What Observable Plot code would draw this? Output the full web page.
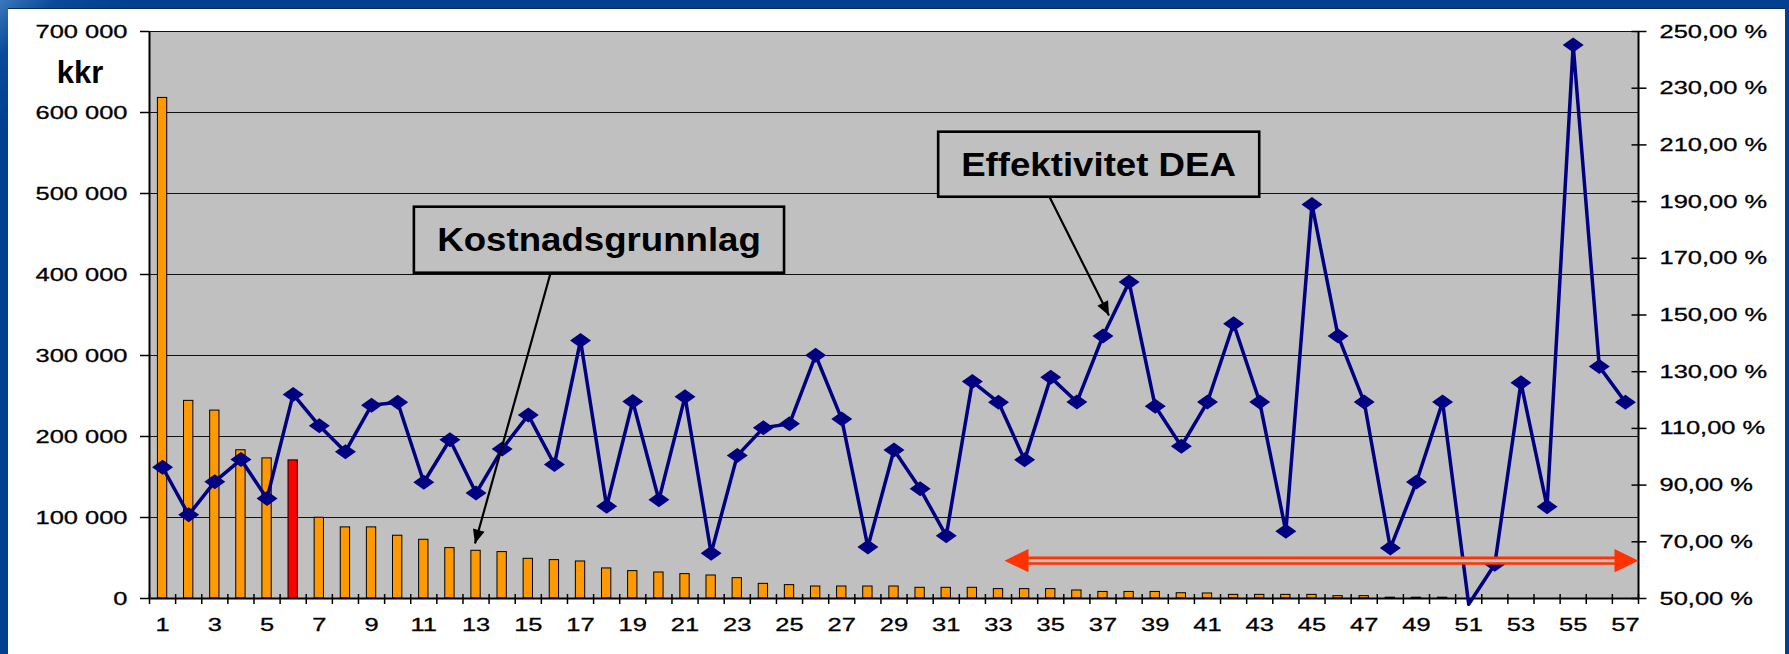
<!DOCTYPE html>
<html>
<head>
<meta charset="utf-8">
<script src="https://cdn.jsdelivr.net/npm/d3@7"></script>
<script src="https://cdn.jsdelivr.net/npm/@observablehq/plot@0.6"></script>
<style>
  html, body { margin: 0; padding: 0; }
  body { width: 1789px; height: 654px; overflow: hidden; position: relative;
         background: linear-gradient(135deg, #3a78bd 0px, #0a4a98 40px, #00408f 90px, #00408f 100%); }
  #panel { position: absolute; left: 8px; top: 8px; width: 1777px; height: 646px; background: #ffffff;
           border-top: 1px solid #0b2a5c; box-sizing: border-box; }
  #chart { position: absolute; left: 0; top: 0; }
</style>
</head>
<body>
<div id="panel"></div>
<div id="chart"></div>
<script>
// ---------- data ----------
const categories = [1,2,3,4,5,6,7,8,9,10,11,12,13,14,15,16,17,18,19,20,21,22,23,24,25,26,27,28,29,30,
  31,32,33,34,35,36,37,38,39,40,41,42,43,44,45,46,47,48,49,50,51,52,53,54,55,56,57];

// Kostnadsgrunnlag (kkr), left axis
const costBase = [618000,244000,232000,183000,173000,170500,99700,87800,87800,77500,
  72500,62200,58900,57300,49000,47400,45700,37100,33800,32100,
  30100,28400,25100,18100,16500,14800,14800,14800,14800,13200,
  13200,13200,11600,11600,11600,9900,8100,8100,8100,6500,
  6200,4500,4500,4500,4500,2900,2900,1000,1000,1000,
  0,0,0,0,0,0,0];

// Effektivitet DEA (%), right axis
const efficiencyPct = [96.3,79.5,91.2,99.0,85.3,122.0,110.9,101.8,118.2,119.2,
  91.0,106.0,87.2,102.7,114.7,97.3,141.0,82.5,119.5,84.8,
  121.2,66.0,100.4,110.2,111.6,135.8,113.3,68.2,102.4,88.7,
  72.1,126.5,119.2,98.9,128.0,119.3,142.6,161.6,117.8,103.7,
  119.3,146.9,119.3,73.7,189.0,142.6,119.3,67.8,91.1,119.3,
  48.0,62.1,126.1,82.4,245.2,131.8,119.2];

const highlighted = 6;

const leftTicks = [0,100000,200000,300000,400000,500000,600000,700000];
const rightTicksPct = [50,70,90,110,130,150,170,190,210,230,250];
const xLabelTicks = [1,3,5,7,9,11,13,15,17,19,21,23,25,27,29,31,33,35,37,39,41,43,45,47,49,51,53,55,57];

// annotations (data units: x = category position, y = kkr)
const calloutLabels = ["Kostnadsgrunnlag", "Effektivitet DEA"];
const calloutBoxX1 = [10.64, 30.71];
const calloutBoxX2 = [24.81, 43.00];
const calloutBoxY1 = [401600, 495400];
const calloutBoxY2 = [483100, 575700];
const calloutTextX = [17.71, 36.83];
const calloutTextY = [429600, 522200];
const calloutArrowX1 = [15.85, 34.96];
const calloutArrowY1 = [401600, 495400];
const calloutArrowX2 = [12.96, 37.23];
const calloutArrowY2 = [67900, 349400];
const rangeArrow = {x1: 33.23, x2: 57.5, y: 46700};

// ---------- tables ----------
const pctMin = 50, pctMax = 250, kkrMax = 700000;
const pctToKkr = p => (p - pctMin) * kkrMax / (pctMax - pctMin);
const kkrToPct = v => v * (pctMax - pctMin) / kkrMax + pctMin;

const rows = categories.map((k, i) => ({k, cost: costBase[i], pct: efficiencyPct[i]}));
const callouts = calloutLabels.map((label, i) => ({
  label, x1: calloutBoxX1[i], x2: calloutBoxX2[i], y1: calloutBoxY1[i], y2: calloutBoxY2[i],
  tx: calloutTextX[i], ty: calloutTextY[i],
  ax: calloutArrowX1[i], ay: calloutArrowY1[i], bx: calloutArrowX2[i], by: calloutArrowY2[i]
}));
const xDomain = [categories[0] - 0.5, categories[categories.length - 1] + 0.5];
const boundaries = categories.map(k => k - 0.5).concat([xDomain[1]]);

const spaceFmt = d => d3.format(",")(d).replace(/,/g, " ");
const pctFmt = v => kkrToPct(v).toFixed(2).replace(".", ",") + " %";

// ---------- helpers ----------
const NS = "http://www.w3.org/2000/svg";
function headMarker(len, wid, color) {
  return () => {
    const m = document.createElementNS(NS, "marker");
    m.setAttribute("viewBox", `${-len} ${-wid / 2} ${len} ${wid}`);
    m.setAttribute("markerWidth", len);
    m.setAttribute("markerHeight", wid);
    m.setAttribute("markerUnits", "userSpaceOnUse");
    m.setAttribute("refX", 0);
    m.setAttribute("refY", 0);
    m.setAttribute("orient", "auto-start-reverse");
    m.setAttribute("overflow", "visible");
    const p = document.createElementNS(NS, "path");
    p.setAttribute("d", `M0,0L${-len},${-wid / 2}L${-len},${wid / 2}Z`);
    p.setAttribute("fill", color);
    p.setAttribute("stroke", "none");
    m.appendChild(p);
    return m;
  };
}
const diamond = {
  draw(ctx) {
    ctx.moveTo(0, -7.5); ctx.lineTo(10.5, 0); ctx.lineTo(0, 7.5); ctx.lineTo(-10.5, 0); ctx.closePath();
  }
};

const NAVY = "#000080", ORANGE = "#FF9900", RED = "#FF0000", ARROWRED = "#FF3300", GREY = "#C0C0C0";
const TICKFONT = 19;

const chart = Plot.plot({
  width: 1789,
  height: 654,
  marginLeft: 149,
  marginRight: 151,
  marginTop: 31,
  marginBottom: 56,
  style: {background: "transparent", fontFamily: "'Liberation Sans', Arial, sans-serif", fontSize: `${TICKFONT}px`, color: "black"},
  x: {type: "linear", domain: xDomain},
  y: {domain: [0, kkrMax]},
  marks: [
    Plot.frame({fill: GREY}),
    Plot.ruleY(leftTicks.slice(1), {stroke: "#111", strokeWidth: 1}),
    Plot.rectY(rows, {x1: d => d.k - 0.5, x2: d => d.k + 0.5, y: "cost", insetLeft: 8.4, insetRight: 8.4,
      fill: d => d.k === highlighted ? RED : ORANGE, stroke: "black", strokeWidth: 1}),
    Plot.ruleX(xDomain, {stroke: "black", strokeWidth: 2}),
    Plot.ruleY([0], {stroke: "black", strokeWidth: 2}),
    // left axis
    Plot.axisY({anchor: "left", ticks: leftTicks, tickSize: 9, tickPadding: 13, tickFormat: spaceFmt, label: null,
      strokeWidth: 1.5, fontSize: TICKFONT}),
    // right axis ticks (crossing) and labels
    Plot.axisY({anchor: "right", ticks: rightTicksPct.map(pctToKkr), tickSize: 15, dx: -7.5, tickFormat: () => "", label: null, strokeWidth: 1.5}),
    Plot.axisY({anchor: "right", ticks: rightTicksPct.map(pctToKkr), tickSize: 0, tickPadding: 21, tickFormat: pctFmt, label: null,
      fontSize: TICKFONT}),
    // x axis ticks at category boundaries, labels on odd categories
    Plot.axisX({anchor: "bottom", ticks: boundaries, tickSize: 10, dy: -4, tickFormat: () => "", label: null, strokeWidth: 1.5}),
    Plot.axisX({anchor: "bottom", ticks: xLabelTicks, tickSize: 0, tickPadding: 19, tickFormat: d => String(d), label: null,
      fontSize: TICKFONT}),
    // efficiency line
    Plot.line(rows, {x: "k", y: d => pctToKkr(d.pct), stroke: NAVY, strokeWidth: 3.5}),
    Plot.dot(rows.filter(d => d.pct >= pctMin), {x: "k", y: d => pctToKkr(d.pct), symbol: diamond, fill: NAVY, stroke: "none"}),
    // range arrow
    Plot.ruleY([rangeArrow], {y: "y", x1: "x1", x2: "x2", stroke: ARROWRED, strokeWidth: 8.3, insetLeft: 20, insetRight: 20}),
    Plot.ruleY([rangeArrow], {y: "y", x1: "x1", x2: "x2", stroke: GREY, strokeWidth: 3, insetLeft: 20, insetRight: 20}),
    Plot.link([rangeArrow], {x1: "x1", x2: "x2", y1: "y", y2: "y", stroke: ARROWRED, strokeOpacity: 0,
      markerStart: headMarker(24, 23.4, ARROWRED), markerEnd: headMarker(24, 23.4, ARROWRED)}),
    // callouts
    Plot.link(callouts, {x1: "ax", y1: "ay", x2: "bx", y2: "by", stroke: "black", strokeWidth: 2.2,
      markerEnd: headMarker(14, 12, "black")}),
    Plot.rect(callouts, {x1: "x1", x2: "x2", y1: "y1", y2: "y2", fill: GREY, stroke: "black", strokeWidth: 2.6}),
    Plot.text(callouts, {x: "tx", y: "ty", text: "label", fontSize: 33, fontWeight: "bold", lineAnchor: "bottom",
      textAnchor: "middle", fill: "black"}),
    // unit label
    Plot.text(["kkr"], {frameAnchor: "top-left", dx: -69.4, dy: 51, lineAnchor: "bottom", textAnchor: "middle",
      fontSize: 31, fontWeight: "bold", fill: "black"})
  ]
});

document.getElementById("chart").appendChild(chart);

// stretch text horizontally (the source chart is widened)
function stretchEl(t, factor) {
  const spans = t.querySelectorAll("tspan");
  const targets = spans.length ? Array.from(spans) : [t];
  targets.forEach(el => {
    const len = el.getComputedTextLength();
    if (len > 0) {
      el.setAttribute("textLength", (len * factor).toFixed(2));
      el.setAttribute("lengthAdjust", "spacingAndGlyphs");
    }
  });
}
chart.querySelectorAll('g[aria-label$="tick label"] text').forEach(t => {
  stretchEl(t, 1.34);
  t.style.stroke = "black";
  t.style.strokeWidth = "0.3px";
});
chart.querySelectorAll("text").forEach(t => {
  if (calloutLabels.includes(t.textContent.trim())) stretchEl(t, 1.11);
});
</script>
</body>
</html>
